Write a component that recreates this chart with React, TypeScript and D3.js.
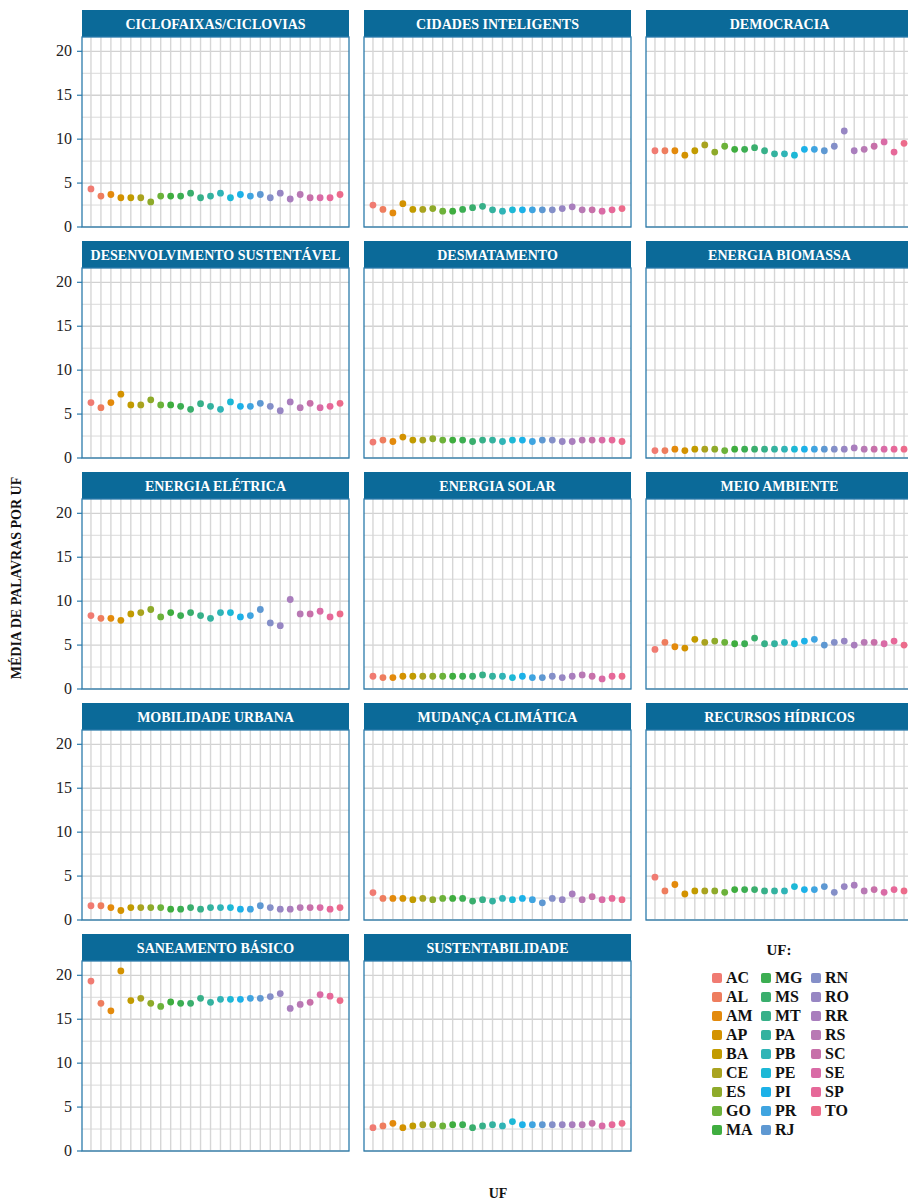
import React, { useEffect, useRef } from 'react';
import * as d3 from 'd3';

const ufs = ['AC', 'AL', 'AM', 'AP', 'BA', 'CE', 'ES', 'GO', 'MA', 'MG', 'MS', 'MT', 'PA',
  'PB', 'PE', 'PI', 'PR', 'RJ', 'RN', 'RO', 'RR', 'RS', 'SC', 'SE', 'SP', 'TO'];

const ufColors = ['#F07B72', '#EE7D5E', '#E38A0C', '#D39200', '#C29B00', '#A9A31F', '#8EAA2A',
  '#6CB23A', '#3FAD3F', '#3CAE52', '#3AAE6D', '#37B089', '#34B29F', '#30B4B6', '#1DB8D6',
  '#1CB1E8', '#3FA4E0', '#5E98D2', '#848FC8', '#9786C3', '#A97EBD', '#B879B4', '#C770A9',
  '#D96BA6', '#E66899', '#EC6B8B'];

const temas = ['CICLOFAIXAS/CICLOVIAS', 'CIDADES INTELIGENTS', 'DEMOCRACIA',
  'DESENVOLVIMENTO SUSTENTÁVEL', 'DESMATAMENTO', 'ENERGIA BIOMASSA',
  'ENERGIA ELÉTRICA', 'ENERGIA SOLAR', 'MEIO AMBIENTE',
  'MOBILIDADE URBANA', 'MUDANÇA CLIMÁTICA', 'RECURSOS HÍDRICOS',
  'SANEAMENTO BÁSICO', 'SUSTENTABILIDADE'];

const ciclofaixas = [4.33, 3.52, 3.7, 3.33, 3.33, 3.33, 2.85, 3.52, 3.52, 3.52, 3.85, 3.33, 3.52,
  3.85, 3.33, 3.7, 3.52, 3.7, 3.33, 3.85, 3.19, 3.7, 3.33, 3.33, 3.33, 3.7];
const cidades = [2.5, 2.0, 1.6, 2.65, 2.0, 2.0, 2.1, 1.8, 1.8, 2.0, 2.2, 2.35, 1.95, 1.8, 1.95,
  1.95, 1.95, 1.95, 1.95, 2.1, 2.3, 1.95, 1.95, 1.8, 1.95, 2.1];
const democracia = [8.68, 8.68, 8.68, 8.18, 8.68, 9.34, 8.53, 9.19, 8.84, 8.84, 9.03, 8.68, 8.33,
  8.33, 8.18, 8.84, 8.84, 8.68, 9.19, 10.93, 8.68, 8.84, 9.19, 9.69, 8.53, 9.53];
const desenvolvimento = [6.31, 5.73, 6.31, 7.27, 6.04, 6.04, 6.62, 6.04, 6.04, 5.88, 5.54, 6.19,
  5.88, 5.54, 6.38, 5.88, 5.88, 6.23, 5.88, 5.38, 6.38, 5.73, 6.23, 5.73, 5.88, 6.23];
const desmatamento = [1.81, 2.04, 1.88, 2.38, 2.04, 2.04, 2.19, 2.04, 2.04, 2.04, 1.88, 2.04, 2.04,
  1.88, 2.04, 2.04, 1.88, 2.04, 2.04, 1.88, 1.88, 2.04, 2.04, 2.04, 2.04, 1.88];
const biomassa = [0.85, 0.85, 1.0, 0.85, 1.0, 1.0, 1.0, 0.85, 1.0, 1.0, 1.0, 1.0, 1.0, 1.0, 1.0,
  1.0, 1.0, 1.0, 1.0, 1.0, 1.15, 1.0, 1.0, 1.0, 1.0, 1.0];
const eletrica = [8.36, 8.05, 8.05, 7.82, 8.55, 8.7, 9.05, 8.21, 8.7, 8.36, 8.7, 8.36, 8.05, 8.7,
  8.7, 8.21, 8.36, 9.05, 7.52, 7.21, 10.19, 8.55, 8.55, 8.85, 8.21, 8.55];
const solar = [1.45, 1.3, 1.3, 1.45, 1.45, 1.45, 1.45, 1.45, 1.45, 1.45, 1.45, 1.6, 1.45, 1.45,
  1.3, 1.45, 1.3, 1.3, 1.45, 1.3, 1.45, 1.6, 1.45, 1.15, 1.45, 1.45];
const meioAmbiente = [4.5, 5.31, 4.81, 4.66, 5.65, 5.31, 5.46, 5.31, 5.15, 5.15, 5.8, 5.15, 5.15,
  5.31, 5.15, 5.46, 5.65, 5.0, 5.31, 5.46, 5.0, 5.31, 5.31, 5.15, 5.46, 5.0];
const mobilidade = [1.62, 1.62, 1.42, 1.08, 1.42, 1.42, 1.42, 1.42, 1.23, 1.23, 1.42, 1.23, 1.42,
  1.42, 1.42, 1.23, 1.23, 1.62, 1.42, 1.23, 1.23, 1.42, 1.42, 1.42, 1.23, 1.42];
const mudanca = [3.12, 2.46, 2.46, 2.46, 2.31, 2.46, 2.31, 2.46, 2.46, 2.46, 2.15, 2.31, 2.15,
  2.46, 2.31, 2.46, 2.31, 1.96, 2.46, 2.31, 2.96, 2.31, 2.65, 2.31, 2.46, 2.31];
const recursos = [4.88, 3.31, 4.04, 2.96, 3.31, 3.31, 3.31, 3.15, 3.46, 3.46, 3.46, 3.31, 3.31,
  3.31, 3.81, 3.46, 3.46, 3.81, 3.15, 3.81, 3.96, 3.31, 3.46, 3.15, 3.46, 3.31];
const saneamento = [19.35, 16.81, 15.96, 20.5, 17.12, 17.38, 16.81, 16.46, 16.96, 16.81, 16.81,
  17.38, 16.92, 17.27, 17.27, 17.27, 17.38, 17.38, 17.58, 17.92, 16.23, 16.69, 16.92, 17.81,
  17.62, 17.12];
const sustentabilidade = [2.65, 2.85, 3.15, 2.65, 2.85, 3.0, 3.0, 2.85, 3.0, 3.0, 2.65, 2.85, 3.0,
  2.85, 3.35, 3.0, 3.0, 3.0, 3.0, 3.0, 3.0, 3.0, 3.15, 2.85, 3.0, 3.15];

const series = [ciclofaixas, cidades, democracia, desenvolvimento, desmatamento, biomassa,
  eletrica, solar, meioAmbiente, mobilidade, mudanca, recursos, saneamento, sustentabilidade];

const yTicks = [0, 5, 10, 15, 20];
const yMinor = [2.5, 7.5, 12.5, 17.5];

export default function App() {
  const ref = useRef<SVGSVGElement>(null);

  useEffect(() => {
    const svg = d3.select(ref.current);
    svg.selectAll('*').remove();

    const font = 'Liberation Serif, Times New Roman, Times, DejaVu Serif, serif';
    const blue = '#0b6a99';
    const border = '#2b7bab';
    const colX = [82, 364, 646];
    const rowY = [10, 241, 472, 703, 934];
    const pw = 267, stripH = 27, ph = 190;

    const x = d3.scalePoint<string>().domain(ufs).range([0, pw]).padding(0.9);
    const y = d3.scaleLinear().domain([0, 21.63]).range([ph, 0]);
    const color = d3.scaleOrdinal<string, string>(ufs, ufColors);

    temas.forEach((tema, i) => {
      const col = i % 3, row = Math.floor(i / 3);
      const g = svg.append('g')
        .attr('transform', `translate(${colX[col]},${rowY[row]})`);

      // strip
      g.append('rect')
        .attr('x', 0).attr('y', 0)
        .attr('width', pw).attr('height', stripH)
        .attr('fill', blue);
      g.append('text')
        .attr('x', pw / 2).attr('y', 19)
        .attr('text-anchor', 'middle')
        .attr('fill', 'white')
        .style('font-family', font)
        .attr('font-weight', 'bold')
        .attr('font-size', 14)
        .text(tema);

      const p = g.append('g').attr('transform', `translate(0,${stripH})`);

      p.append('g')
        .selectAll('line')
        .data(yMinor)
        .join('line')
        .attr('x1', 0).attr('x2', pw)
        .attr('y1', d => y(d)).attr('y2', d => y(d))
        .attr('stroke', '#dadada').attr('stroke-width', 1);
      p.append('g')
        .selectAll('line')
        .data(yTicks)
        .join('line')
        .attr('x1', 0).attr('x2', pw)
        .attr('y1', d => y(d)).attr('y2', d => y(d))
        .attr('stroke', '#d2d2d2').attr('stroke-width', 1.3);
      p.append('g')
        .selectAll('line')
        .data(ufs)
        .join('line')
        .attr('x1', d => x(d)!).attr('x2', d => x(d)!)
        .attr('y1', 0).attr('y2', ph)
        .attr('stroke', '#d6d6d6').attr('stroke-width', 1.4);

      p.append('g')
        .selectAll('circle')
        .data(series[i])
        .join('circle')
        .attr('cx', (d, j) => x(ufs[j])!)
        .attr('cy', d => y(d))
        .attr('r', 3.4)
        .attr('fill', (d, j) => color(ufs[j]));

      p.append('rect')
        .attr('x', 0).attr('y', 0)
        .attr('width', pw).attr('height', ph)
        .attr('fill', 'none')
        .attr('stroke', border).attr('stroke-width', 1.3);

      if (col === 0) {
        const ax = p.append('g');
        ax.selectAll('line')
          .data(yTicks)
          .join('line')
          .attr('x1', -5).attr('x2', 0)
          .attr('y1', d => y(d)).attr('y2', d => y(d))
          .attr('stroke', border).attr('stroke-width', 1.2);
        ax.selectAll('text')
          .data(yTicks)
          .join('text')
          .attr('x', -10)
          .attr('y', d => y(d) + 5)
          .attr('text-anchor', 'end')
          .style('font-family', font)
          .attr('font-size', 16)
          .attr('fill', '#222')
          .text(d => d);
      }
    });

    // axis titles
    svg.append('text')
      .attr('transform', 'translate(21,578) rotate(-90)')
      .attr('text-anchor', 'middle')
      .style('font-family', font)
      .attr('font-weight', 'bold')
      .attr('font-size', 14)
      .attr('fill', '#111')
      .text('MÉDIA DE PALAVRAS POR UF');

    svg.append('text')
      .attr('x', 498).attr('y', 1198)
      .attr('text-anchor', 'middle')
      .style('font-family', font)
      .attr('font-weight', 'bold')
      .attr('font-size', 14)
      .attr('fill', '#111')
      .text('UF');

    // legend
    const lg = svg.append('g');
    lg.append('text')
      .attr('x', 779).attr('y', 955)
      .attr('text-anchor', 'middle')
      .style('font-family', font)
      .attr('font-weight', 'bold')
      .attr('font-size', 15)
      .attr('fill', '#111')
      .text('UF:');

    const legX = [712, 761, 811];
    const item = lg.selectAll('g.item')
      .data(ufs)
      .join('g')
      .attr('class', 'item')
      .attr('transform', (d, j) => `translate(${legX[Math.floor(j / 9)]},${973 + (j % 9) * 19})`);
    item.append('rect')
      .attr('width', 10).attr('height', 10)
      .attr('rx', 2)
      .attr('fill', d => color(d));
    item.append('text')
      .attr('x', 14).attr('y', 10)
      .style('font-family', font)
      .attr('font-weight', 'bold')
      .attr('font-size', 16)
      .attr('fill', '#111')
      .text(d => d);
  }, []);

  return (
    <svg ref={ref} width={908} height={1200}
      style={{ position: 'absolute', left: 0, top: 0, background: 'white' }} />
  );
}
